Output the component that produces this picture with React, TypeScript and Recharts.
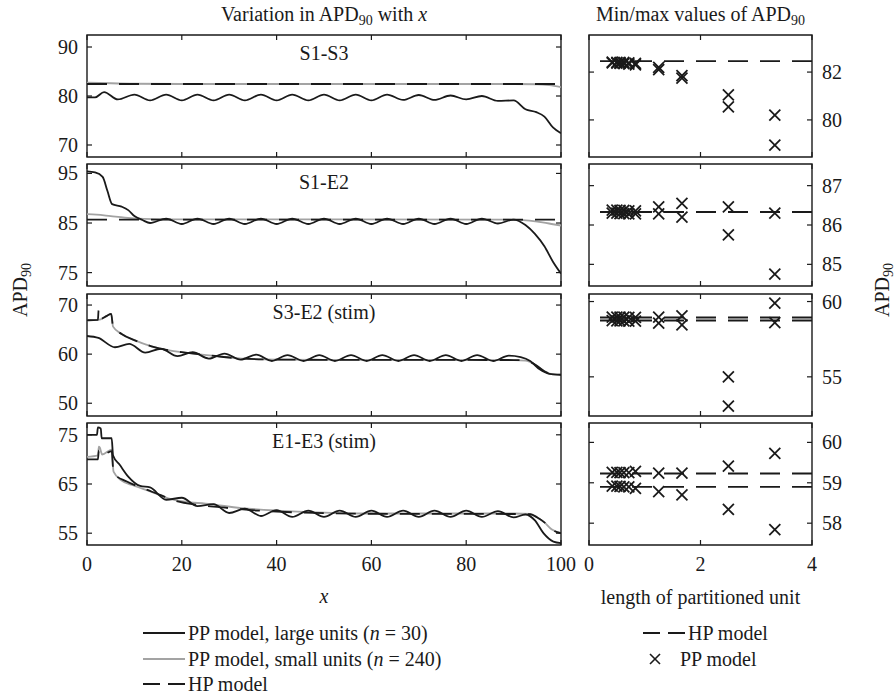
import React from 'react';
import { LineChart, Line, ScatterChart, Scatter, XAxis, YAxis, ReferenceArea, ReferenceLine } from 'recharts';

const FONT = '"Liberation Serif", "Times New Roman", serif';
const INK = '#1a1a1a';
const GREY = '#a3a3a3';
const DASH = '20 12';
const FS = 20;

// x axes
const X_TICKS = [0, 20, 40, 60, 80, 100];
const LEN_TICKS = [0, 2, 4];
// length of partitioned unit (100 / n)
const UNIT_LEN = [0.417, 0.5, 0.556, 0.625, 0.714, 0.833, 1.25, 1.667, 2.5, 3.333];

// ---- S1-S3 ----
const S1S3_LARGE_X = [0, 1.7, 3.6, 6.5, 10, 13.3, 16.7, 20, 23.3, 26.7, 30, 33.3, 36.7, 40, 43.3, 46.7, 50, 53.3, 56.7, 60, 63.3, 66.7, 70, 73.3, 76.7, 80, 83.3, 86.7, 90, 92.5, 94.8, 96.5, 98.3, 100];
const S1S3_LARGE_Y = [79.7, 79.7, 80.8, 79.3, 80.3, 79.1, 80.3, 79.1, 80.3, 79.1, 80.3, 79.1, 80.3, 79.1, 80.3, 79.1, 80.3, 79.1, 80.3, 79.1, 80.3, 79.2, 80.2, 79.2, 80.1, 79.3, 80.0, 79.0, 79.1, 77.3, 76.7, 75.8, 73.6, 72.4];
const S1S3_SMALL_X = [0, 5, 10, 20, 90, 95, 97.5, 100];
const S1S3_SMALL_Y = [82.75, 82.6, 82.5, 82.45, 82.45, 82.4, 82.2, 81.8];
const S1S3_HP_X = [0, 100];
const S1S3_HP_Y = [82.45, 82.45];
const S1S3_MAX = [82.42, 82.41, 82.4, 82.4, 82.38, 82.36, 82.2, 81.85, 81.05, 80.2];
const S1S3_MIN = [82.38, 82.37, 82.36, 82.35, 82.33, 82.3, 82.1, 81.75, 80.55, 78.95];
const S1S3_HP_MINMAX = [82.46];

// ---- S1-E2 ----
const S1E2_LARGE_X = [0, 1.7, 3.3, 4.3, 5.3, 7.3, 8.7, 10, 11.7, 13.3, 16.7, 20, 23.3, 26.7, 30, 33.3, 36.7, 40, 43.3, 46.7, 50, 53.3, 56.7, 60, 63.3, 66.7, 70, 73.3, 76.7, 80, 83.3, 86.7, 90, 92.5, 94.5, 96.5, 98.3, 100];
const S1E2_LARGE_Y = [95.4, 95.2, 94.3, 91.5, 88.8, 88.3, 87.6, 86.4, 85.6, 85.0, 85.9, 84.8, 85.9, 84.8, 85.9, 84.8, 85.9, 84.8, 85.9, 84.8, 85.9, 84.8, 85.9, 84.8, 85.9, 84.8, 85.9, 84.8, 85.9, 84.8, 85.9, 84.9, 85.7, 84.6, 82.8, 80.3, 77.2, 74.8];
const S1E2_SMALL_X = [0, 2, 5, 8, 12, 16, 88, 92, 95, 98, 100];
const S1E2_SMALL_Y = [86.8, 86.7, 86.4, 86.1, 85.85, 85.75, 85.7, 85.6, 85.3, 84.8, 84.5];
const S1E2_HP_X = [0, 100];
const S1E2_HP_Y = [85.7, 85.7];
const S1E2_MAX = [86.38, 86.38, 86.37, 86.37, 86.36, 86.36, 86.46, 86.55, 86.46, 86.3];
const S1E2_MIN = [86.3, 86.3, 86.29, 86.29, 86.28, 86.28, 86.28, 86.2, 85.75, 84.75];
const S1E2_HP_MINMAX = [86.33];

// ---- S3-E2 (stim) ----
const S3E2_LARGE_X = [0, 2.4, 5.9, 8.9, 12.3, 15.6, 19.1, 22.3, 25.7, 29.0, 32.4, 35.7, 39.0, 42.3, 45.7, 49.0, 52.3, 55.7, 59.0, 62.3, 65.7, 69.0, 72.3, 75.7, 79.0, 82.3, 85.7, 89.0, 91.5, 93.5, 95.5, 97.5, 100];
const S3E2_LARGE_Y = [63.7, 63.3, 61.4, 62.1, 60.3, 61.1, 59.6, 60.4, 59.1, 60.1, 58.9, 59.9, 58.6, 59.8, 58.6, 59.8, 58.6, 59.8, 58.6, 59.8, 58.6, 59.8, 58.6, 59.8, 58.6, 59.8, 58.6, 59.7, 59.4, 58.6, 56.9, 56.0, 55.8];
const S3E2_SMALL_X = [0, 2.3, 2.9, 4.2, 5.1, 5.5, 7.3, 10.1, 13.6, 17.1, 20.7, 26.3, 32.6, 40, 50, 90, 92.5, 94.5, 96.5, 98.2, 100];
const S3E2_SMALL_Y = [66.9, 67.0, 67.1, 67.8, 68.2, 65.6, 64.1, 62.8, 61.6, 60.8, 60.3, 59.7, 59.1, 58.9, 58.85, 58.8, 58.7, 57.9, 56.5, 55.9, 55.8];
const S3E2_HP_X = [0, 2.3, 2.45, 2.6, 4.2, 5.1, 5.5, 7.3, 10.1, 13.6, 17.1, 20.7, 26.3, 32.6, 40, 50, 90, 92.5, 94.5, 96.5, 98.2, 100];
const S3E2_HP_Y = [66.9, 67.0, 68.9, 67.1, 67.8, 68.2, 65.6, 64.1, 62.8, 61.6, 60.8, 60.3, 59.7, 59.1, 58.9, 58.85, 58.8, 58.7, 57.9, 56.5, 55.9, 55.8];
const S3E2_MAX = [58.97, 58.97, 58.96, 58.96, 58.95, 58.95, 58.97, 59.05, 55.0, 59.9];
const S3E2_MIN = [58.73, 58.72, 58.72, 58.71, 58.7, 58.7, 58.57, 58.45, 53.05, 58.6];
const S3E2_HP_MINMAX = [58.94, 58.74];

// ---- E1-E3 (stim) ----
const E1E3_LARGE_X = [0, 2.1, 2.3, 2.9, 3.1, 5.2, 5.5, 6.9, 8.7, 11.2, 13.3, 16.7, 20, 23.3, 26.7, 30, 33.3, 36.7, 40, 43.3, 46.7, 50, 53.3, 56.7, 60, 63.3, 66.7, 70, 73.3, 76.7, 80, 83.3, 86.7, 90, 92.5, 94.5, 96.3, 98.4, 100];
const E1E3_LARGE_Y = [75.0, 75.0, 76.5, 76.3, 74.3, 74.3, 70.8, 68.9, 66.5, 64.6, 64.3, 61.8, 62.2, 60.5, 60.9, 59.1, 60.0, 58.5, 59.7, 58.3, 59.6, 58.3, 59.6, 58.3, 59.6, 58.3, 59.6, 58.3, 59.6, 58.3, 59.6, 58.3, 59.5, 58.2, 58.8, 57.6, 55.0, 53.3, 53.0];
const E1E3_SMALL_X = [0, 2.3, 2.5, 2.7, 3.2, 5.2, 5.6, 7.3, 9.8, 13.6, 17.1, 20.7, 25, 32.6, 40, 50, 60, 90, 93.5, 95, 96.5, 98, 100];
const E1E3_SMALL_Y = [70.5, 70.8, 72.6, 72.4, 71.0, 72.0, 67.5, 65.7, 64.7, 63.4, 62.1, 61.4, 61.0, 60.1, 59.6, 59.2, 59.0, 59.0, 58.9, 58.2, 57.2, 55.8, 55.0];
const E1E3_HP_X = [0, 2.3, 2.5, 3.2, 3.4, 5.2, 5.6, 8.4, 11.9, 15.4, 18.2, 23.8, 30, 36, 45, 60, 90, 93.5, 95, 96.5, 98, 100];
const E1E3_HP_Y = [70.0, 70.0, 71.8, 71.8, 71.0, 71.7, 67.2, 65.5, 64.1, 62.8, 61.7, 60.7, 60.1, 59.6, 59.2, 58.95, 58.9, 58.85, 58.2, 57.2, 55.8, 55.0];
const E1E3_MAX = [59.26, 59.26, 59.25, 59.25, 59.25, 59.28, 59.24, 59.24, 59.41, 59.73];
const E1E3_MIN = [58.92, 58.92, 58.91, 58.9, 58.9, 58.86, 58.78, 58.7, 58.34, 57.84];
const E1E3_HP_MINMAX = [59.23, 58.9];

const zip = (xs: number[], ys: number[]) => xs.map((x, i) => ({ x, y: ys[i] }));

const ROWS = [
  {
    name: 'S1-S3', domain: [67.55, 92.45], ticks: [70, 80, 90],
    large: zip(S1S3_LARGE_X, S1S3_LARGE_Y), small: zip(S1S3_SMALL_X, S1S3_SMALL_Y), hp: zip(S1S3_HP_X, S1S3_HP_Y),
    rDomain: [78.45, 83.55], rTicks: [80, 82],
    max: zip(UNIT_LEN, S1S3_MAX), min: zip(UNIT_LEN, S1S3_MIN), hpMinMax: S1S3_HP_MINMAX,
  },
  {
    name: 'S1-E2', domain: [72.3, 96.9], ticks: [75, 85, 95],
    large: zip(S1E2_LARGE_X, S1E2_LARGE_Y), small: zip(S1E2_SMALL_X, S1E2_SMALL_Y), hp: zip(S1E2_HP_X, S1E2_HP_Y),
    rDomain: [84.45, 87.55], rTicks: [85, 86, 87],
    max: zip(UNIT_LEN, S1E2_MAX), min: zip(UNIT_LEN, S1E2_MIN), hpMinMax: S1E2_HP_MINMAX,
  },
  {
    name: 'S3-E2 (stim)', domain: [47.4, 72.25], ticks: [50, 60, 70],
    large: zip(S3E2_LARGE_X, S3E2_LARGE_Y), small: zip(S3E2_SMALL_X, S3E2_SMALL_Y), hp: zip(S3E2_HP_X, S3E2_HP_Y),
    rDomain: [52.4, 60.5], rTicks: [55, 60],
    max: zip(UNIT_LEN, S3E2_MAX), min: zip(UNIT_LEN, S3E2_MIN), hpMinMax: S3E2_HP_MINMAX,
  },
  {
    name: 'E1-E3 (stim)', domain: [52.6, 77.4], ticks: [55, 65, 75],
    large: zip(E1E3_LARGE_X, E1E3_LARGE_Y), small: zip(E1E3_SMALL_X, E1E3_SMALL_Y), hp: zip(E1E3_HP_X, E1E3_HP_Y),
    rDomain: [57.46, 60.48], rTicks: [58, 59, 60],
    max: zip(UNIT_LEN, E1E3_MAX), min: zip(UNIT_LEN, E1E3_MIN), hpMinMax: E1E3_HP_MINMAX,
  },
];

// layout
const PL_X = 87, PL_W = 474;
const PR_X = 589, PR_W = 223;
const ROW_TOP = [35, 164, 294, 423];
const ROW_H = 122;
const PAD = 3;
const SIDE = 22; // room for the end tick labels

function BottomTick(props: any) {
  const { x, y, payload, span, showLabel } = props;
  return (
    <g>
      <line x1={x} y1={y} x2={x} y2={y - 5} stroke={INK} strokeWidth={1.2} />
      <line x1={x} y1={y - span} x2={x} y2={y - span + 5} stroke={INK} strokeWidth={1.2} />
      {showLabel && (
        <text x={x} y={y + 26} textAnchor="middle" fontFamily={FONT} fontSize={FS} fill={INK}>{payload.value}</text>
      )}
    </g>
  );
}

function LeftTick(props: any) {
  const { x, y, payload, span } = props;
  return (
    <g>
      <line x1={x} y1={y} x2={x + 5} y2={y} stroke={INK} strokeWidth={1.2} />
      <line x1={x + span} y1={y} x2={x + span - 5} y2={y} stroke={INK} strokeWidth={1.2} />
      <text x={x - 9} y={y} dy="0.35em" textAnchor="end" fontFamily={FONT} fontSize={FS} fill={INK}>{payload.value}</text>
    </g>
  );
}

function RightTick(props: any) {
  const { x, y, payload, span } = props;
  return (
    <g>
      <line x1={x} y1={y} x2={x - 5} y2={y} stroke={INK} strokeWidth={1.2} />
      <line x1={x - span} y1={y} x2={x - span + 5} y2={y} stroke={INK} strokeWidth={1.2} />
      <text x={x + 10} y={y} dy="0.35em" textAnchor="start" fontFamily={FONT} fontSize={FS} fill={INK}>{payload.value}</text>
    </g>
  );
}

function Cross(props: any) {
  const { cx, cy } = props;
  const s = 5.5;
  return (
    <g stroke={INK} strokeWidth={1.8}>
      <line x1={cx - s} y1={cy - s} x2={cx + s} y2={cy + s} />
      <line x1={cx - s} y1={cy + s} x2={cx + s} y2={cy - s} />
    </g>
  );
}

function ProfilePanel({ row, top, last }: any) {
  return (
    <div style={{ position: 'absolute', left: PL_X - 50, top: top - PAD }}>
      <LineChart width={50 + PL_W + SIDE} height={PAD + ROW_H + 32} margin={{ top: PAD, right: SIDE, bottom: 0, left: 0 }}>
        <XAxis type="number" dataKey="x" domain={[0, 100]} ticks={X_TICKS} interval={0} allowDataOverflow height={32}
          axisLine={false} tickLine={false} tickSize={0} tickMargin={0}
          tick={(p: any) => <BottomTick {...p} span={ROW_H} showLabel={last} />} />
        <YAxis type="number" domain={row.domain} ticks={row.ticks} interval={0} allowDataOverflow width={50}
          axisLine={false} tickLine={false} tickSize={0} tickMargin={0}
          tick={(p: any) => <LeftTick {...p} span={PL_W} />} />
        <ReferenceArea x1={0} x2={100} y1={row.domain[0]} y2={row.domain[1]} fill="none" stroke={INK} strokeWidth={1.4} />
        <Line data={row.small} dataKey="y" type="monotone" stroke={GREY} strokeWidth={1.8} dot={false} isAnimationActive={false} />
        <Line data={row.large} dataKey="y" type="monotone" stroke={INK} strokeWidth={1.8} dot={false} isAnimationActive={false} />
        <Line data={row.hp} dataKey="y" type="monotone" stroke={INK} strokeWidth={1.8} strokeDasharray={DASH} dot={false} isAnimationActive={false} />
      </LineChart>
    </div>
  );
}

function MinMaxPanel({ row, top, last }: any) {
  return (
    <div style={{ position: 'absolute', left: PR_X - SIDE, top: top - PAD }}>
      <ScatterChart width={SIDE + PR_W + 45} height={PAD + ROW_H + 32} margin={{ top: PAD, right: 0, bottom: 0, left: SIDE }}>
        <XAxis type="number" dataKey="x" domain={[0, 4]} ticks={LEN_TICKS} interval={0} allowDataOverflow height={32}
          axisLine={false} tickLine={false} tickSize={0} tickMargin={0}
          tick={(p: any) => <BottomTick {...p} span={ROW_H} showLabel={last} />} />
        <YAxis type="number" dataKey="y" orientation="right" domain={row.rDomain} ticks={row.rTicks} interval={0} allowDataOverflow width={45}
          axisLine={false} tickLine={false} tickSize={0} tickMargin={0}
          tick={(p: any) => <RightTick {...p} span={PR_W} />} />
        <ReferenceArea x1={0} x2={4} y1={row.rDomain[0]} y2={row.rDomain[1]} fill="none" stroke={INK} strokeWidth={1.4} />
        {row.hpMinMax.map((v: number, i: number) => (
          <ReferenceLine key={i} y={v} stroke={INK} strokeWidth={1.8} strokeDasharray={DASH} />
        ))}
        <Scatter data={row.max} shape={(p: any) => <Cross {...p} />} isAnimationActive={false} />
        <Scatter data={row.min} shape={(p: any) => <Cross {...p} />} isAnimationActive={false} />
      </ScatterChart>
    </div>
  );
}

const txt: React.CSSProperties = { position: 'absolute', fontFamily: FONT, fontSize: FS, color: INK, whiteSpace: 'nowrap', lineHeight: '22px' };
const sub: React.CSSProperties = { fontSize: '70%', verticalAlign: '-0.3em', lineHeight: 0 };

function Centered({ x, y, children, style }: any) {
  return <div style={{ ...txt, left: x, top: y - 11, transform: 'translateX(-50%)', ...style }}>{children}</div>;
}

function Sample({ kind }: { kind: string }) {
  return (
    <svg width={44} height={14} style={{ position: 'absolute', left: 0, top: 4 }}>
      {kind === 'cross' ? (
        <g stroke={INK} strokeWidth={1.6}>
          <line x1={7} y1={2} x2={17} y2={12} />
          <line x1={7} y1={12} x2={17} y2={2} />
        </g>
      ) : (
        <line x1={0} y1={7} x2={42} y2={7}
          stroke={kind === 'grey' ? GREY : INK} strokeWidth={1.8}
          strokeDasharray={kind === 'dash' ? '17 8' : undefined} />
      )}
    </svg>
  );
}

function LegendItem({ x, y, kind, children, gap = 45 }: any) {
  return (
    <div style={{ position: 'absolute', left: x, top: y - 11, height: 22 }}>
      <Sample kind={kind} />
      <div style={{ ...txt, left: gap, top: 0 }}>{children}</div>
    </div>
  );
}

const Apd = () => <span>APD<span style={sub}>90</span></span>;

export default function App() {
  return (
    <div style={{ position: 'absolute', left: 0, top: 0, width: 896, height: 699, background: '#fff', overflow: 'hidden' }}>
      <Centered x={PL_X + PL_W / 2} y={14}>Variation in <Apd /> with <i>x</i></Centered>
      <Centered x={PR_X + PR_W / 2} y={14}>Min/max values of <Apd /></Centered>

      {ROWS.map((row, i) => (
        <React.Fragment key={row.name}>
          <ProfilePanel row={row} top={ROW_TOP[i]} last={i === ROWS.length - 1} />
          <MinMaxPanel row={row} top={ROW_TOP[i]} last={i === ROWS.length - 1} />
          <Centered x={PL_X + PL_W / 2} y={ROW_TOP[i] + 18}>{row.name}</Centered>
        </React.Fragment>
      ))}

      <div style={{ ...txt, left: 20, top: 290, transform: 'translate(-50%, -50%) rotate(-90deg)' }}><Apd /></div>
      <div style={{ ...txt, left: 882, top: 290, transform: 'translate(-50%, -50%) rotate(-90deg)' }}><Apd /></div>

      <Centered x={PL_X + PL_W / 2} y={596}><i>x</i></Centered>
      <Centered x={PR_X + PR_W / 2} y={597}>length of partitioned unit</Centered>

      <LegendItem x={143} y={633} kind="solid">PP model, large units (<i>n</i> = 30)</LegendItem>
      <LegendItem x={143} y={659} kind="grey">PP model, small units (<i>n</i> = 240)</LegendItem>
      <LegendItem x={143} y={684} kind="dash">HP model</LegendItem>
      <LegendItem x={643} y={633} kind="dash">HP model</LegendItem>
      <LegendItem x={643} y={659} kind="cross" gap={37}>PP model</LegendItem>
    </div>
  );
}
